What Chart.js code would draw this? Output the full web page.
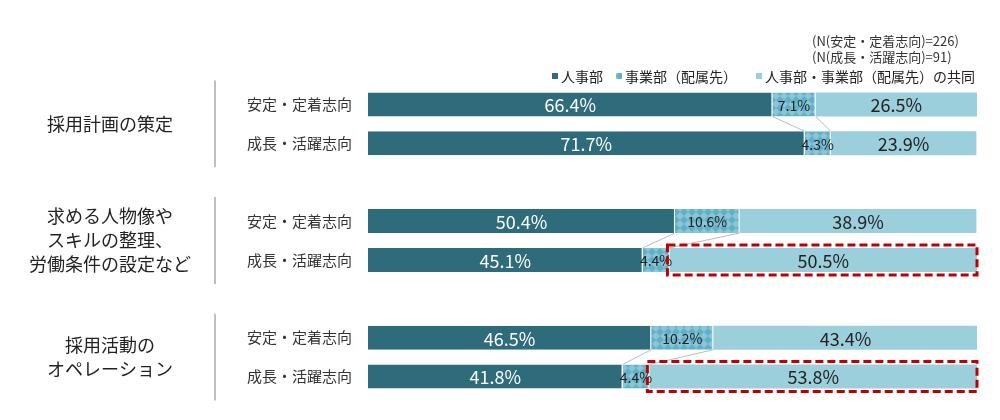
<!DOCTYPE html>
<html><head><meta charset="utf-8">
<script src="https://cdn.jsdelivr.net/npm/chart.js@4"></script>
<style>body{margin:0;background:#fff}#wrap{width:1000px;height:420px}</style>
</head><body><div id="wrap"><canvas id="c"></canvas></div>
<script>
const rows = ['安定・定着志向','成長・活躍志向','','安定・定着志向','成長・活躍志向','','安定・定着志向','成長・活躍志向'];
const groups = [['採用計画の策定'],['求める人物像や','スキルの整理、','労働条件の設定など'],['採用活動の','オペレーション']];
const hr = [66.4,71.7,null,50.4,45.1,null,46.5,41.8];
const biz = [7.1,4.3,null,10.6,4.4,null,10.2,4.4];
const joint = [26.5,23.9,null,38.9,50.5,null,43.4,53.8];
const seriesNames = ['人事部','事業部（配属先）','人事部・事業部（配属先）の共同'];
const highlighted = [4,7];
const font = '"Noto Sans CJK JP", "Noto Sans", sans-serif';

// diamond pattern for the middle segment
const pc = document.createElement('canvas'); pc.width = 8; pc.height = 8;
const px = pc.getContext('2d');
px.fillStyle = '#8cc6d6'; px.fillRect(0,0,8,8);
px.fillStyle = '#5fb0c8';
px.beginPath(); px.moveTo(4,0); px.lineTo(8,4); px.lineTo(4,8); px.lineTo(0,4); px.closePath(); px.fill();
const pattern = px.createPattern(pc,'repeat');

const extras = {
  id:'extras',
  afterDatasetsDraw(chart){
    const ctx = chart.ctx;
    const m = chart.data.datasets.map((d,i)=>chart.getDatasetMeta(i));
    ctx.save();
    // connector lines between paired bars
    ctx.strokeStyle = '#bbbbbb'; ctx.lineWidth = 1;
    [[0,1],[3,4],[6,7]].forEach(([a,b])=>{
      [0,1].forEach(s=>{
        const ea = m[s].data[a], eb = m[s].data[b];
        ctx.beginPath();
        ctx.moveTo(ea.x, ea.y + ea.height/2);
        ctx.lineTo(eb.x, eb.y - eb.height/2);
        ctx.stroke();
      });
    });
    // value labels
    ctx.textBaseline = 'middle';
    m.forEach((meta,s)=>{
      meta.data.forEach((el,i)=>{
        const v = chart.data.datasets[s].data[i];
        if (v == null) return;
        const left = el.base, right = el.x;
        const small = s===1;
        ctx.font = (small ? '14px ' : '18px ') + font;
        ctx.fillStyle = s===0 ? '#ffffff' : '#222222';
        let x = (left+right)/2;
        ctx.textAlign = 'center';
        if (small && v < 5) { x = left + (right-left)/2; }
        ctx.fillText(v.toFixed(1)+'%', x, el.y+1);
      });
    });
    // dashed highlight boxes
    ctx.strokeStyle = '#c00000'; ctx.lineWidth = 3; ctx.setLineDash([8,4]);
    highlighted.forEach(i=>{
      const el = m[2].data[i];
      ctx.strokeRect(el.base-2, el.y-el.height/2-3, el.x-el.base+2, el.height+6);
    });
    ctx.setLineDash([]);
    // row labels
    ctx.fillStyle = '#333'; ctx.font = '15px ' + font; ctx.textAlign = 'right';
    rows.forEach((r,i)=>{ if (r) ctx.fillText(r, 352, m[0].data[i].y); });
    // group labels and separators
    [[0,1],[3,4],[6,7]].forEach(([a,b],g)=>{
      const y0 = m[0].data[a].y, y1 = m[0].data[b].y, cy = (y0+y1)/2;
      ctx.strokeStyle = '#bfbfbf'; ctx.lineWidth = 2;
      ctx.beginPath(); ctx.moveTo(215, y0-24); ctx.lineTo(215, y1+24); ctx.stroke();
      const lines = groups[g];
      ctx.font = '18px ' + font; ctx.textAlign = 'center'; ctx.fillStyle = '#222';
      lines.forEach((t,k)=>ctx.fillText(t, 110, cy + (k-(lines.length-1)/2)*24));
    });
    // N notes
    ctx.font = '13px ' + font; ctx.textAlign = 'left'; ctx.fillStyle = '#333';
    ctx.fillText('(N(安定・定着志向)=226)', 812, 41);
    ctx.fillText('(N(成長・活躍志向)=91)', 812, 57);
    // legend
    const cols = ['#2e6b7b', pattern, '#9ccfdc'];
    const lx = [552, 616, 756];
    ctx.font = '14px ' + font;
    seriesNames.forEach((n,i)=>{
      ctx.fillStyle = cols[i]; ctx.fillRect(lx[i], 73, 6, 6);
      ctx.fillStyle = '#222'; ctx.fillText(n, lx[i]+9, 77);
    });
    ctx.restore();
  }
};

new Chart(document.getElementById('c'), {
  type:'bar',
  data:{ labels: rows, datasets:[
    {label:seriesNames[0], data:hr, backgroundColor:'#2e6b7b', borderColor:'#ffffff', borderWidth:{right:1}},
    {label:seriesNames[1], data:biz, backgroundColor:pattern, borderColor:'#ffffff', borderWidth:{right:1}},
    {label:seriesNames[2], data:joint, backgroundColor:'#9ccfdc'}
  ]},
  options:{
    indexAxis:'y', responsive:true, maintainAspectRatio:false, animation:false,
    layout:{padding:{left:368,right:23,top:85,bottom:24}},
    categoryPercentage:1, barPercentage:0.62,
    scales:{
      x:{stacked:true, min:0, max:100, display:false},
      y:{stacked:true, display:false}
    },
    plugins:{legend:{display:false}, tooltip:{enabled:false}}
  },
  plugins:[extras]
});
</script></body></html>
